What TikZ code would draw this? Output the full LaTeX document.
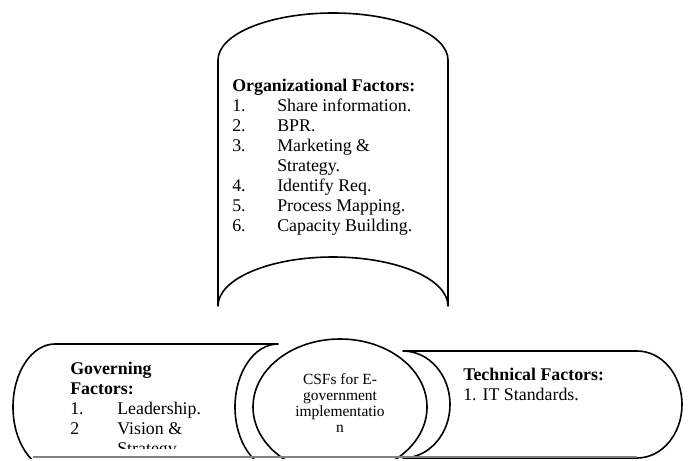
\documentclass[tikz,border=0pt]{standalone}
\usepackage{fontspec}
\setmainfont{Liberation Serif}
\usetikzlibrary{shapes.geometric}

\tikzset{
  outline/.style={draw=black, line width=1.2pt, line join=round},
  blocktext/.style={anchor=base west, inner sep=0pt, font=\fontsize{13.4}{15}\selectfont},
  csftext/.style={anchor=base, inner sep=0pt, font=\fontsize{11.6}{12.2}\selectfont},
}
\newcommand{\numitem}[2]{\makebox[#1][l]{#2}}

\begin{document}
\begin{tikzpicture}[x=0.75pt,y=0.75pt,yscale=-1,xscale=1]
\useasboundingbox (0,0) rectangle (688,460);
\clip (0,0) rectangle (688,458);

% Shape: organizational (vertical scroll)
\draw[outline] (218,60) .. controls (218,34) and (269.5,13) .. (333,13) .. controls (396.5,13) and (448,34) .. (448,60) -- (448,306) .. controls (448,278.9) and (396.5,257) .. (333,257) .. controls (269.5,257) and (218,278.9) .. (218,306) -- cycle ;
% Shape: governing
\draw[outline] (55,344) -- (278,344) .. controls (254.3,344) and (235,372.2) .. (235,407) .. controls (235,441.8) and (254.3,470) .. (278,470) -- (55,470) .. controls (31.8,470) and (13,441.8) .. (13,407) .. controls (13,372.2) and (31.8,344) .. (55,344) -- cycle ;
% Shape: technical
\draw[outline] (403,351) -- (637,351) .. controls (662,351) and (682,375) .. (682,404.5) .. controls (682,434) and (662,458) .. (637,458) -- (403,458) .. controls (429,458) and (450,434) .. (450,404.5) .. controls (450,375) and (429,351) .. (403,351) -- cycle ;
% Ellipse
\node[outline, ellipse, minimum width=130.5pt, minimum height=102pt, inner sep=0pt] (csf) at (340,407) {};
% bottom edge
\draw[gray, line width=0.8pt] (33,457) -- (637,457) ;

% Text Node
\node[blocktext] (orgfactors) at (232,91) {\begin{tabular}[t]{@{}l@{}}
\textbf{Organizational Factors:}\\
\numitem{33.75pt}{1.}Share information.\\
\numitem{33.75pt}{2.}BPR.\\
\numitem{33.75pt}{3.}Marketing \&\\
\numitem{33.75pt}{}Strategy.\\
\numitem{33.75pt}{4.}Identify Req.\\
\numitem{33.75pt}{5.}Process Mapping.\\
\numitem{33.75pt}{6.}Capacity Building.
\end{tabular}};
% Text Node
\begin{scope}
\clip (0,0) rectangle (688,448);
\node[blocktext] (govfactors) at (70,374) {\begin{tabular}[t]{@{}l@{}}
\textbf{Governing}\\
\textbf{Factors:}\\
\numitem{35.25pt}{1.}Leadership.\\
\numitem{35.25pt}{2}Vision \&\\
\numitem{35.25pt}{}Strategy.
\end{tabular}};
\end{scope}
% Text Node
\node[blocktext] (techfactors) at (463,380) {\begin{tabular}[t]{@{}l@{}}
\textbf{Technical Factors:}\\
1. IT Standards.
\end{tabular}};
% Text Node
\node[csftext] (csflabel) at (340,384) {\begin{tabular}[t]{@{}c@{}}
CSFs for E-\\government\\implementatio\\n
\end{tabular}};

\end{tikzpicture}
\end{document}
